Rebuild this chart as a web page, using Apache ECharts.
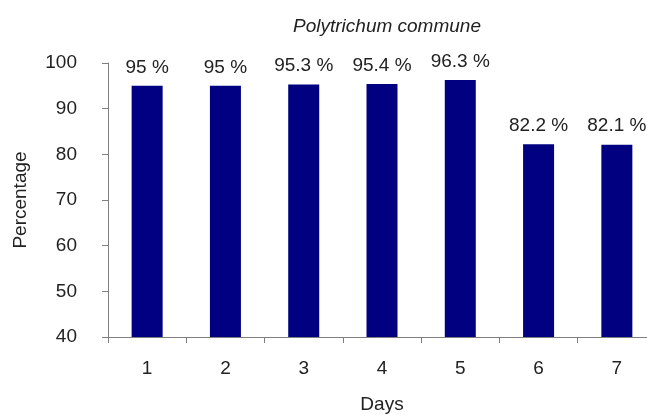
<!DOCTYPE html>
<html>
<head>
<meta charset="utf-8">
<style>
  html, body { margin: 0; padding: 0; background: #ffffff; }
  #chart { width: 647px; height: 415px; }
</style>
<script src="https://cdn.jsdelivr.net/npm/echarts@6/dist/echarts.min.js"></script>
</head>
<body>
<div id="chart"></div>
<script>
// Germination percentage per day
const days = ['1', '2', '3', '4', '5', '6', '7'];
const percentages = [95, 95, 95.3, 95.4, 96.3, 82.2, 82.1];
const yTicks = { min: 40, max: 100, interval: 10 };

const font = 'Liberation Sans, Arial, sans-serif';
const textColor = '#222222';
const axisColor = '#7f7f7f';
const fontSize = 19;

const chart = echarts.init(document.getElementById('chart'), null, { renderer: 'canvas' });

chart.setOption({
  backgroundColor: '#ffffff',
  animation: false,
  title: {
    text: 'Polytrichum commune',
    left: 382,
    top: 12,
    textAlign: 'center',
    textStyle: { fontFamily: font, fontSize: fontSize, fontStyle: 'italic', fontWeight: 'normal', color: textColor }
  },
  // the plot runs a little past the right edge of the canvas
  grid: {
    left: 108, top: 63, width: 548, height: 274,
    containLabel: false,
    outerBoundsMode: 'none'
  },
  xAxis: {
    type: 'category',
    data: days,
    name: 'Days',
    nameLocation: 'middle',
    nameGap: 58,
    nameTextStyle: { fontFamily: font, fontSize: fontSize, color: textColor },
    boundaryGap: true,
    axisLine: { lineStyle: { color: axisColor, width: 1 } },
    axisTick: { show: true, alignWithLabel: false, length: 6, lineStyle: { color: axisColor } },
    axisLabel: { fontFamily: font, fontSize: fontSize, color: textColor, margin: 22 },
    splitLine: { show: false }
  },
  yAxis: {
    type: 'value',
    min: yTicks.min,
    max: yTicks.max,
    interval: yTicks.interval,
    name: 'Percentage',
    nameLocation: 'middle',
    nameGap: 78,
    nameRotate: 90,
    nameTextStyle: { fontFamily: font, fontSize: fontSize, color: textColor },
    axisLine: { show: true, lineStyle: { color: axisColor, width: 1 } },
    axisTick: { show: true, length: 6, lineStyle: { color: axisColor } },
    axisLabel: { fontFamily: font, fontSize: fontSize, color: textColor, margin: 31 },
    splitLine: { show: false }
  },
  series: [{
    type: 'bar',
    data: percentages,
    barWidth: 31,
    itemStyle: { color: '#000080' },
    label: {
      show: true,
      position: 'top',
      distance: 9,
      formatter: p => p.value + ' %',
      fontFamily: font,
      fontSize: fontSize,
      color: textColor
    }
  }]
});
</script>
</body>
</html>
